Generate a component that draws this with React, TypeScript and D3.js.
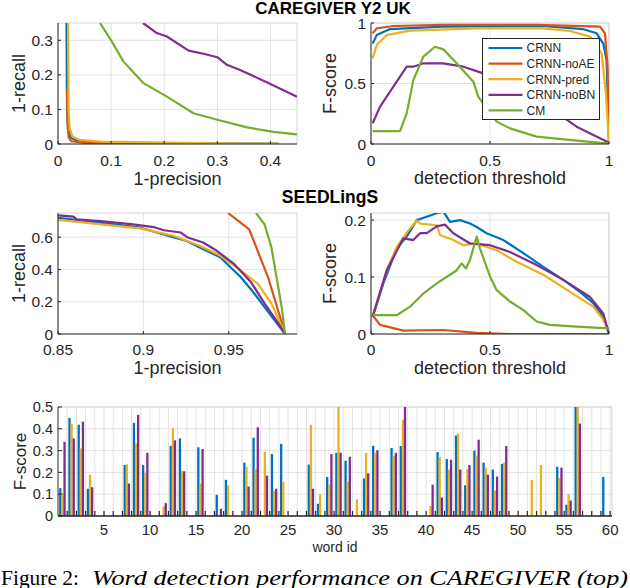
import React from "react";
import * as d3 from "d3";

type Pt = [number, number];

const BLUE = "#0072BD";
const ORANGE = "#D95319";
const YELLOW = "#EDB120";
const PURPLE = "#7E2F8E";
const GREEN = "#77AC30";
const AXIS = "#262626";
const GRID = "#e3e3e3";
const FONT = "'Liberation Sans', Arial, Helvetica, sans-serif";

const legendNames = ["CRNN", "CRNN-noAE", "CRNN-pred", "CRNN-noBN", "CM"];
const legendColors = [BLUE, ORANGE, YELLOW, PURPLE, GREEN];

// CAREGIVER: 1-precision vs 1-recall
const cgPrBlue: Pt[] = [[0.016, 0.36], [0.017, 0.1], [0.019, 0.04], [0.024, 0.018], [0.035, 0.01], [0.08, 0.005], [0.2, 0.002], [0.415, 0.001]];
const cgPrOrange: Pt[] = [[0.017, 0.16], [0.018, 0.06], [0.02, 0.02], [0.025, 0.008], [0.05, 0.003], [0.12, 0.001], [0.3, 0.0]];
const cgPrYellow: Pt[] = [[0.019, 0.36], [0.02, 0.1], [0.022, 0.045], [0.027, 0.022], [0.04, 0.012], [0.08, 0.007], [0.2, 0.004], [0.3, 0.002], [0.415, 0.001]];
const cgPrPurple: Pt[] = [[0.16, 0.35], [0.186, 0.321], [0.205, 0.311], [0.246, 0.27], [0.274, 0.261], [0.3, 0.251], [0.318, 0.229], [0.343, 0.214], [0.394, 0.178], [0.45, 0.137]];
const cgPrGreen: Pt[] = [[0.079, 0.35], [0.1, 0.3], [0.123, 0.239], [0.161, 0.176], [0.205, 0.137], [0.255, 0.089], [0.3, 0.07], [0.356, 0.048], [0.406, 0.035], [0.45, 0.028]];

// CAREGIVER: detection threshold vs F-score
const cgFBlue: Pt[] = [[0.007, 0.83], [0.024, 0.9], [0.08, 0.95], [0.3, 0.97], [0.72, 0.975], [0.89, 0.95], [0.948, 0.915], [0.976, 0.83], [0.99, 0.69], [1, 0]];
const cgFOrange: Pt[] = [[0.007, 0.915], [0.024, 0.956], [0.094, 0.975], [0.3, 0.985], [0.7, 0.985], [0.962, 0.97], [0.983, 0.915], [0.994, 0.64], [1, 0]];
const cgFYellow: Pt[] = [[0.007, 0.708], [0.024, 0.818], [0.066, 0.9], [0.164, 0.937], [0.444, 0.956], [0.72, 0.956], [0.836, 0.934], [0.92, 0.887], [0.969, 0.749], [0.987, 0.419], [1, 0]];
const cgFPurple: Pt[] = [[0.007, 0.171], [0.038, 0.309], [0.094, 0.474], [0.136, 0.598], [0.15, 0.639], [0.178, 0.639], [0.22, 0.667], [0.304, 0.667], [0.388, 0.639], [0.472, 0.584], [0.556, 0.515], [0.724, 0.336], [0.864, 0.143], [0.99, 0.02], [1, 0]];
const cgFGreen: Pt[] = [[0.007, 0.107], [0.122, 0.107], [0.15, 0.253], [0.178, 0.529], [0.22, 0.722], [0.269, 0.804], [0.304, 0.782], [0.36, 0.667], [0.43, 0.515], [0.451, 0.39], [0.5, 0.26], [0.528, 0.185], [0.584, 0.129], [0.696, 0.061], [0.864, 0.028], [0.99, 0.006], [1, 0]];

// SEEDLingS: 1-precision vs 1-recall
const slPrBlue: Pt[] = [[0.85, 0.72], [0.875, 0.69], [0.898, 0.659], [0.918, 0.598], [0.925, 0.578], [0.937, 0.516], [0.945, 0.476], [0.957, 0.353], [0.965, 0.251], [0.973, 0.139], [0.983, 0]];
const slPrOrange: Pt[] = [[0.9496, 0.75], [0.962, 0.649], [0.973, 0.353], [0.98, 0.108], [0.983, 0]];
const slPrYellow: Pt[] = [[0.85, 0.708], [0.875, 0.68], [0.898, 0.655], [0.918, 0.608], [0.933, 0.547], [0.945, 0.486], [0.957, 0.394], [0.967, 0.312], [0.975, 0.19], [0.983, 0]];
const slPrPurple: Pt[] = [[0.85, 0.735], [0.859, 0.727], [0.861, 0.71], [0.875, 0.7], [0.894, 0.68], [0.906, 0.663], [0.912, 0.643], [0.922, 0.629], [0.926, 0.598], [0.935, 0.567], [0.943, 0.516], [0.953, 0.435], [0.963, 0.322], [0.971, 0.19], [0.979, 0.067], [0.983, 0]];
const slPrGreen: Pt[] = [[0.966, 0.75], [0.971, 0.68], [0.975, 0.537], [0.978, 0.353], [0.981, 0.169], [0.983, 0]];

// SEEDLingS: detection threshold vs F-score
const slFBlue: Pt[] = [[0.007, 0.03], [0.052, 0.089], [0.108, 0.15], [0.15, 0.171], [0.192, 0.2], [0.234, 0.206], [0.276, 0.212], [0.304, 0.215], [0.332, 0.197], [0.374, 0.2], [0.416, 0.194], [0.444, 0.188], [0.486, 0.177], [0.556, 0.165], [0.64, 0.142], [0.724, 0.118], [0.808, 0.095], [0.878, 0.074], [0.934, 0.054], [0.976, 0.03], [1, 0]];
const slFOrange: Pt[] = [[0.007, 0.033], [0.038, 0.016], [0.136, 0.006], [0.304, 0.007], [0.444, 0.002], [0.584, 0], [1, 0]];
const slFYellow: Pt[] = [[0.007, 0.032], [0.066, 0.112], [0.108, 0.153], [0.157, 0.182], [0.192, 0.199], [0.206, 0.194], [0.276, 0.191], [0.29, 0.174], [0.346, 0.165], [0.388, 0.156], [0.444, 0.159], [0.528, 0.147], [0.612, 0.127], [0.724, 0.104], [0.836, 0.074], [0.934, 0.048], [0.976, 0.025], [1, 0.001]];
const slFPurple: Pt[] = [[0.007, 0.03], [0.066, 0.112], [0.136, 0.168], [0.178, 0.165], [0.206, 0.177], [0.234, 0.177], [0.276, 0.189], [0.311, 0.192], [0.346, 0.177], [0.416, 0.159], [0.5, 0.156], [0.584, 0.144], [0.696, 0.121], [0.808, 0.095], [0.92, 0.065], [0.976, 0.036], [1, 0]];
const slFGreen: Pt[] = [[0.007, 0.033], [0.108, 0.033], [0.164, 0.048], [0.22, 0.071], [0.276, 0.089], [0.332, 0.104], [0.36, 0.112], [0.381, 0.124], [0.399, 0.115], [0.416, 0.13], [0.444, 0.171], [0.458, 0.15], [0.5, 0.101], [0.528, 0.077], [0.584, 0.057], [0.64, 0.042], [0.696, 0.022], [0.752, 0.016], [0.864, 0.013], [1, 0.01]];

// per-word F-score, word id 1..60
const wordCRNN = [0.128, 0.45, 0.419, 0.125, 0, 0, 0, 0.234, 0.427, 0.234, 0, 0, 0.322, 0.356, 0, 0.315, 0, 0.097, 0.166, 0, 0.245, 0.359, 0, 0.284, 0.331, 0, 0, 0.236, 0.056, 0.179, 0.29, 0.254, 0, 0.172, 0.322, 0, 0.312, 0.321, 0, 0, 0, 0.293, 0.261, 0.369, 0.141, 0.3, 0.245, 0.213, 0.239, 0, 0, 0, 0, 0, 0.226, 0.052, 0.52, 0, 0, 0.179];
const wordPred = [0.106, 0.424, 0.31, 0.19, 0, 0, 0, 0.237, 0.333, 0.199, 0, 0.044, 0.404, 0.208, 0, 0.149, 0, 0, 0.14, 0, 0.226, 0.216, 0.295, 0.117, 0.158, 0, 0, 0.418, 0.099, 0.144, 0.52, 0.158, 0.076, 0.29, 0.29, 0, 0.274, 0.442, 0, 0, 0.047, 0.27, 0.213, 0.377, 0.216, 0.277, 0.222, 0.117, 0.245, 0, 0, 0.166, 0.234, 0, 0.175, 0.099, 0.52, 0, 0, 0];
const wordNoBN = [0.34, 0.356, 0.433, 0.132, 0, 0, 0, 0.149, 0.464, 0.29, 0, 0.059, 0.347, 0.205, 0, 0.307, 0, 0.033, 0, 0, 0.135, 0.407, 0.185, 0.125, 0, 0, 0, 0.125, 0, 0.284, 0.29, 0.272, 0, 0.196, 0.302, 0, 0.29, 0.52, 0, 0, 0.144, 0.085, 0.258, 0.213, 0.234, 0.35, 0.19, 0.181, 0.321, 0, 0, 0, 0, 0, 0.222, 0.071, 0.424, 0, 0, 0];

const wordIds = d3.range(1, 61);
const wordTicks = d3.range(5, 61, 5);

interface Series { data: Pt[]; color: string }

interface PanelProps {
  id: string;
  left: number; right: number; top: number; bottom: number;
  xDomain: [number, number]; yDomain: [number, number];
  xTicks: number[]; yTicks: number[];
  series: Series[];
  xLabel: string; yLabel: string;
  xLabelY: number; yLabelX: number; tickY: number;
}

const fmt = d3.format("~g");

function LinePanel(p: PanelProps) {
  const x = d3.scaleLinear().domain(p.xDomain).range([p.left, p.right]);
  const y = d3.scaleLinear().domain(p.yDomain).range([p.bottom, p.top]);
  const line = d3.line<Pt>().x(d => x(d[0])).y(d => y(d[1]));
  return (
    <g>
      <defs>
        <clipPath id={p.id}>
          <rect x={p.left} y={p.top} width={p.right - p.left} height={p.bottom - p.top} />
        </clipPath>
      </defs>
      {p.xTicks.map(t => (
        <line key={"gx" + t} x1={x(t)} x2={x(t)} y1={p.top} y2={p.bottom} stroke={GRID} />
      ))}
      {p.yTicks.map(t => (
        <line key={"gy" + t} x1={p.left} x2={p.right} y1={y(t)} y2={y(t)} stroke={GRID} />
      ))}
      <path d={`M${p.left},${p.top}H${p.right}V${p.bottom}`} fill="none" stroke="#d4d4d4" />
      <g clipPath={`url(#${p.id})`}>
        {p.series.map((s, i) => (
          <path key={i} d={line(s.data) || ""} fill="none" stroke={s.color} strokeWidth={2.2} strokeLinejoin="round" />
        ))}
      </g>
      <line x1={p.left} x2={p.left} y1={p.top} y2={p.bottom} stroke={AXIS} />
      <line x1={p.left} x2={p.right} y1={p.bottom} y2={p.bottom} stroke={AXIS} />
      {p.xTicks.map(t => (
        <g key={"tx" + t}>
          <line x1={x(t)} x2={x(t)} y1={p.bottom} y2={p.bottom - 3} stroke={AXIS} />
          <text x={x(t)} y={p.tickY} textAnchor="middle" fontSize={15.5} fill={AXIS}>{fmt(t)}</text>
        </g>
      ))}
      {p.yTicks.map(t => (
        <g key={"ty" + t}>
          <line x1={p.left} x2={p.left + 3} y1={y(t)} y2={y(t)} stroke={AXIS} />
          <text x={p.left - 5} y={y(t)} dy="0.36em" textAnchor="end" fontSize={15.5} fill={AXIS}>{fmt(t)}</text>
        </g>
      ))}
      <text x={(p.left + p.right) / 2} y={p.xLabelY} textAnchor="middle" fontSize={18} fill={AXIS}>{p.xLabel}</text>
      <text transform={`translate(${p.yLabelX},${(p.top + p.bottom) / 2}) rotate(-90)`} textAnchor="middle" fontSize={18} fill={AXIS}>{p.yLabel}</text>
    </g>
  );
}

function Legend({ x, y }: { x: number; y: number }) {
  return (
    <g>
      <rect x={x} y={y} width={117} height={81} fill="#fff" stroke={AXIS} strokeWidth={1} />
      {legendNames.map((n, i) => (
        <g key={n}>
          <line x1={x + 6} x2={x + 40} y1={y + 9.5 + i * 15.6} y2={y + 9.5 + i * 15.6} stroke={legendColors[i]} strokeWidth={2.2} />
          <text x={x + 44} y={y + 9.5 + i * 15.6} dy="0.36em" fontSize={12} fill={AXIS}>{n}</text>
        </g>
      ))}
    </g>
  );
}

function WordBars() {
  const left = 58, right = 612, top = 407, bottom = 516;
  const x = d3.scaleLinear().domain([0, 60.2]).range([left, right]);
  const y = d3.scaleLinear().domain([0, 0.5]).range([bottom, top]);
  const yTicks = [0, 0.1, 0.2, 0.3, 0.4, 0.5];
  const groups = [
    { values: wordCRNN, color: BLUE, off: -0.75 },
    { values: wordPred, color: YELLOW, off: -0.52 },
    { values: wordNoBN, color: PURPLE, off: -0.29 },
  ];
  const bw = 0.25;
  return (
    <g>
      <defs>
        <clipPath id="barclip">
          <rect x={left} y={top} width={right - left} height={bottom - top} />
        </clipPath>
      </defs>
      {wordIds.map(k => (
        <line key={"gx" + k} x1={x(k)} x2={x(k)} y1={top} y2={bottom} stroke={GRID} />
      ))}
      {yTicks.map(t => (
        <line key={"gy" + t} x1={left} x2={right} y1={y(t)} y2={y(t)} stroke={GRID} />
      ))}
      <path d={`M${left},${top}H${right}V${bottom}`} fill="none" stroke="#d4d4d4" />
      <g clipPath="url(#barclip)">
        {groups.map(g =>
          g.values.map((v, i) =>
            v > 0 ? (
              <rect key={g.color + i} x={x(wordIds[i] + g.off - bw / 2)} width={x(bw) - x(0)} y={y(v)} height={y(0) - y(v)} fill={g.color} />
            ) : null
          )
        )}
      </g>
      <line x1={left} x2={left} y1={top} y2={bottom} stroke={AXIS} />
      <line x1={left} x2={right} y1={bottom} y2={bottom} stroke={AXIS} strokeWidth={1.5} />
      {wordIds.map(k => (
        <line key={"tk" + k} x1={x(k)} x2={x(k)} y1={bottom} y2={bottom - 5} stroke={AXIS} strokeWidth={1.2} />
      ))}
      {wordTicks.map(t => (
        <text key={"tx" + t} x={x(t)} y={bottom + 19} textAnchor="middle" fontSize={15} fill={AXIS}>{t}</text>
      ))}
      {yTicks.map(t => (
        <g key={"ty" + t}>
          <line x1={left} x2={left + 4} y1={y(t)} y2={y(t)} stroke={AXIS} />
          <text x={left - 5} y={y(t)} dy="0.36em" textAnchor="end" fontSize={14.5} fill={AXIS}>{fmt(t)}</text>
        </g>
      ))}
      <text x={(left + right) / 2} y={552} textAnchor="middle" fontSize={14} fill={AXIS}>word id</text>
      <text transform={`translate(26,${(top + bottom) / 2}) rotate(-90)`} textAnchor="middle" fontSize={17} fill={AXIS}>F-score</text>
    </g>
  );
}

export default function App() {
  const cols = (a: Pt[], b: Pt[], c: Pt[], d: Pt[], e: Pt[]): Series[] => [
    { data: a, color: BLUE },
    { data: b, color: ORANGE },
    { data: c, color: YELLOW },
    { data: d, color: PURPLE },
    { data: e, color: GREEN },
  ];
  return (
    <svg width={630} height={588} style={{ position: "absolute", left: 0, top: 0, background: "#fff" }} fontFamily={FONT}>
      <rect width={630} height={588} fill="#fff" />
      <text x={333} y={14} textAnchor="middle" fontWeight="bold" fontSize={17} fill="#000">CAREGIVER Y2 UK</text>
      <LinePanel id="c1" left={58} right={297} top={23} bottom={144} xDomain={[0, 0.45]} yDomain={[0, 0.35]}
        xTicks={[0, 0.1, 0.2, 0.3, 0.4]} yTicks={[0, 0.1, 0.2, 0.3]}
        series={cols(cgPrBlue, cgPrOrange, cgPrYellow, cgPrPurple, cgPrGreen)}
        xLabel="1-precision" yLabel="1-recall" xLabelY={185} yLabelX={25} tickY={166} />
      <LinePanel id="c2" left={371} right={609} top={23} bottom={144} xDomain={[0, 1]} yDomain={[0, 1]}
        xTicks={[0, 0.5, 1]} yTicks={[0, 0.5, 1]}
        series={cols(cgFBlue, cgFOrange, cgFYellow, cgFPurple, cgFGreen)}
        xLabel="detection threshold" yLabel="F-score" xLabelY={184} yLabelX={336} tickY={166} />
      <Legend x={482.5} y={38.5} />
      <text x={330} y={203} textAnchor="middle" fontWeight="bold" fontSize={17.5} fill="#000">SEEDLingS</text>
      <LinePanel id="c3" left={58} right={297} top={213} bottom={334} xDomain={[0.85, 0.99]} yDomain={[0, 0.75]}
        xTicks={[0.85, 0.9, 0.95]} yTicks={[0, 0.2, 0.4, 0.6]}
        series={cols(slPrBlue, slPrOrange, slPrYellow, slPrPurple, slPrGreen)}
        xLabel="1-precision" yLabel="1-recall" xLabelY={374} yLabelX={25} tickY={355} />
      <LinePanel id="c4" left={371} right={609} top={213} bottom={334} xDomain={[0, 1]} yDomain={[0, 0.2125]}
        xTicks={[0, 0.5, 1]} yTicks={[0, 0.1, 0.2]}
        series={cols(slFBlue, slFOrange, slFYellow, slFPurple, slFGreen)}
        xLabel="detection threshold" yLabel="F-score" xLabelY={374} yLabelX={336} tickY={355} />
      <WordBars />
      <text x={1} y={585} fontFamily="'Liberation Serif', 'DejaVu Serif', serif" fontSize={22} fill="#000" textLength={78} lengthAdjust="spacingAndGlyphs">Figure 2:</text>
      <text x={92} y={585} fontFamily="'Liberation Serif', 'DejaVu Serif', serif" fontStyle="italic" fontSize={22} fill="#000" textLength={536} lengthAdjust="spacingAndGlyphs">Word detection performance on CAREGIVER (top)</text>
    </svg>
  );
}
